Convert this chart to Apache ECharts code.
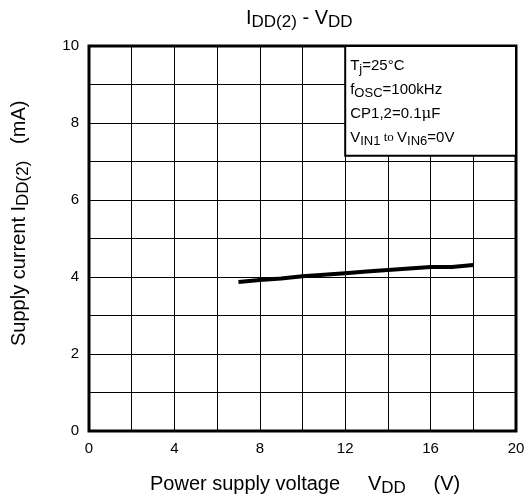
<!DOCTYPE html>
<html>
<head>
<meta charset="utf-8">
<script src="https://cdn.jsdelivr.net/npm/echarts@6/dist/echarts.min.js"></script>
<style>
html,body{margin:0;padding:0;background:#fff;}
#c{width:528px;height:504px;}
</style>
</head>
<body>
<div id="c"></div>
<script>
// Data
var vdd = [7, 8, 9, 10, 11, 12, 13, 14, 15, 16, 17, 18];
var idd = [3.87, 3.92, 3.96, 4.02, 4.06, 4.10, 4.14, 4.18, 4.22, 4.26, 4.26, 4.31];
var xTickLabels = [0, 4, 8, 12, 16, 20];
var yTickLabels = [0, 2, 4, 6, 8, 10];
var noteBox = { x0: 12, x1: 20, y0: 7.15, y1: 10 };

var FONT = 'Liberation Sans, Arial, sans-serif';
var chart = echarts.init(document.getElementById('c'), null, { renderer: 'canvas' });

chart.setOption({
  animation: false,
  backgroundColor: '#fff',
  grid: { left: 89, right: 12, top: 46, bottom: 73, show: true, borderColor: '#000', borderWidth: 3, backgroundColor: 'transparent' },
  xAxis: {
    type: 'value', min: 0, max: 20, interval: 2,
    axisLine: { show: false }, axisTick: { show: false },
    splitLine: { show: true, lineStyle: { color: '#000', width: 1 } },
    axisLabel: {
      color: '#000', fontSize: 15, fontFamily: FONT, margin: 10,
      formatter: function (v) { return xTickLabels.indexOf(v) >= 0 ? String(v) : ''; }
    }
  },
  yAxis: {
    type: 'value', min: 0, max: 10, interval: 1,
    axisLine: { show: false }, axisTick: { show: false },
    splitLine: { show: true, lineStyle: { color: '#000', width: 1 } },
    axisLabel: {
      color: '#000', fontSize: 15, fontFamily: FONT, margin: 10,
      formatter: function (v) { return yTickLabels.indexOf(v) >= 0 ? String(v) : ''; }
    }
  },
  series: [{
    type: 'line',
    data: vdd.map(function (x, i) { return [x, idd[i]]; }),
    showSymbol: false,
    lineStyle: { color: '#000', width: 4 },
    z: 5,
    markArea: {
      silent: true,
      itemStyle: { color: '#fff', borderColor: '#000', borderWidth: 2 },
      label: {
        show: true, position: 'insideTopLeft', distance: 6, padding: [3, 0, 0, 0],
        formatter: '{m|T}{s|j}{m|=25°C}\n{m|f}{s|OSC}{m|=100kHz}\n{m|CP1,2=0.1}{mu|μ}{m|F}\n{m|V}{s|IN1}{to| to }{m|V}{s|IN6}{m|=0V}',
        lineHeight: 24,
        rich: {
          m: { fontSize: 15, fontFamily: FONT, color: '#000', lineHeight: 24 },
          s: { fontSize: 13, fontFamily: FONT, color: '#000', lineHeight: 24, padding: [6, 0, 0, 0] },
          mu: { fontSize: 15, fontFamily: 'DejaVu Serif, serif', color: '#000', lineHeight: 24 },
          to: { fontSize: 13, fontFamily: 'Liberation Serif, serif', color: '#000', lineHeight: 24 }
        }
      },
      data: [[{ coord: [noteBox.x0, noteBox.y1] }, { coord: [noteBox.x1, noteBox.y0] }]]
    }
  }],
  graphic: [
    {
      type: 'text', left: 246, top: 6, z: 10,
      style: {
        text: '{m|I}{s|DD(2)}{m| - V}{s|DD}',
        rich: {
          m: { fontSize: 20, fontFamily: FONT, fill: '#000', lineHeight: 26 },
          s: { fontSize: 17, fontFamily: FONT, fill: '#000', lineHeight: 20, padding: [8, 0, 0, 0] }
        }
      }
    },
    {
      type: 'text', left: 150, top: 472, z: 10,
      style: {
        text: '{m|Power supply voltage     V}{s|DD}{m|     (V)}',
        rich: {
          m: { fontSize: 20, fontFamily: FONT, fill: '#000', lineHeight: 24 },
          s: { fontSize: 17, fontFamily: FONT, fill: '#000', lineHeight: 20, padding: [8, 0, 0, 0] }
        }
      }
    },
    {
      type: 'text', x: 7, y: 346, rotation: Math.PI / 2, z: 10,
      style: {
        text: '{m|Supply current I}{s|DD(2)}{m|   (mA)}',
        rich: {
          m: { fontSize: 20, fontFamily: FONT, fill: '#000', lineHeight: 24 },
          s: { fontSize: 17, fontFamily: FONT, fill: '#000', lineHeight: 20, padding: [8, 0, 0, 0] }
        }
      }
    }
  ]
});
</script>
</body>
</html>
